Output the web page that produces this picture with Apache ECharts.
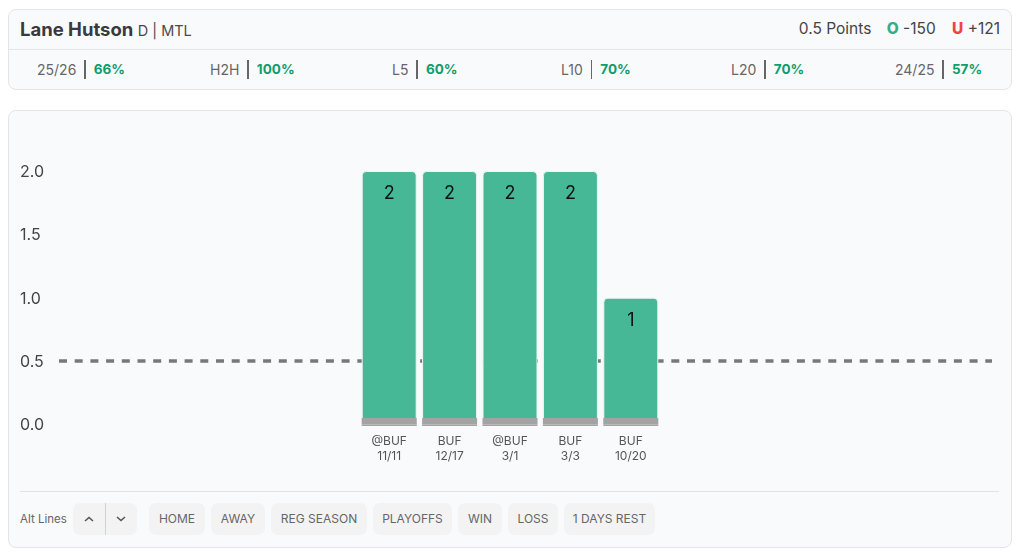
<!DOCTYPE html>
<html><head><meta charset="utf-8">
<script src="https://cdn.jsdelivr.net/npm/echarts@6/dist/echarts.min.js"></script>
<style>
html,body{margin:0;padding:0;background:#fff;width:1024px;height:559px;overflow:hidden;font-family:Inter,"Noto Sans",sans-serif;color:#444}
.card{position:absolute;left:8px;width:1004px;box-sizing:border-box;background:#f9fafc;border:1px solid #e3e5e8;border-radius:8px}
#top{top:9px;height:81px}
#bottom{top:110px;height:438px}
.head{position:absolute;left:0;right:0;top:0;height:39px;border-bottom:1px solid #e3e5e8}
.name{position:absolute;left:11px;top:8px;font-size:18.5px;font-weight:700;color:#3a3a3e;white-space:nowrap}
.name span{font-size:14.5px;font-weight:400;color:#4a4a4e;margin-left:0}
.odds{position:absolute;right:11px;top:9px;font-size:15.5px;color:#444;white-space:nowrap}
.odds b{font-weight:800}
.o{color:#35ad8a;margin-left:11px}.u{color:#ef4444;margin-left:12px}
.stat{position:absolute;top:50px;display:flex;align-items:center;color:#666;font-size:14px;line-height:19px;white-space:nowrap}
.stat i{display:block;width:1.5px;height:19px;background:#666;margin:0 8px}
.stat b{color:#0f9d6c;font-weight:700;font-size:13.5px}
.rule{position:absolute;left:11px;right:12px;top:380px;border-top:1px solid #e1e3e6}
.alt{position:absolute;left:11px;top:401px;font-size:11.5px;color:#666}
.btn{position:absolute;top:392px;height:32px;line-height:32px;text-align:center;background:#f3f3f4;border-radius:7px;font-size:12px;color:#666;white-space:nowrap}
.step{position:absolute;left:64px;top:392px;width:64px;height:32px;background:#f3f3f4;border-radius:7px;display:flex}
.step span{flex:1;display:flex;align-items:center;justify-content:center}
.step span:first-child{border-right:1px solid #cfd4d2}
.step svg{width:10px;height:6px;fill:none;stroke:#555;stroke-width:1.6}
#chart{position:absolute;left:0;top:0;width:1024px;height:559px}
</style></head><body>
<div class="card" id="top">
  <div class="head">
    <div class="name">Lane Hutson <span>D | MTL</span></div>
    <div class="odds">0.5 Points <b class="o">O</b> -150 <b class="u">U</b> +121</div>
  </div>
  <div id="stats"></div>
</div>
<div class="card" id="bottom">
  <div class="rule"></div>
  <div class="alt">Alt Lines</div>
  <div class="step"><span><svg viewBox="0 0 10 6"><path d="M1 5L5 1.5L9 5"/></svg></span><span><svg viewBox="0 0 10 6"><path d="M1 1L5 4.5L9 1"/></svg></span></div>
  <div id="btns"></div>
</div>
<div id="chart"></div>
<script>
var opponents = ['@BUF','BUF','@BUF','BUF','BUF'];
var dates = ['11/11','12/17','3/1','3/3','10/20'];
var points = [2,2,2,2,1];
var floorTop = [0.05,0.05,0.05,0.05,0.05];
var floorBelow = [-0.012,-0.012,-0.012,-0.012,-0.012];
var propLine = [0.5,0.5];
var lineEnds = [0,1];
var statLabels = ['25/26','H2H','L5','L10','L20','24/25'];
var statValues = ['66%','100%','60%','70%','70%','57%'];
var statLefts = [28,201,383,552,722,886];
var filterLabels = ['HOME','AWAY','REG SEASON','PLAYOFFS','WIN','LOSS','1 DAYS REST'];
var filterLefts = [140,202,262,364,449,499,555];
var filterWidths = [56,54,96,79,44,50,91];

document.getElementById('stats').innerHTML = statLabels.map(function(l,i){
  return '<div class="stat" style="left:'+statLefts[i]+'px">'+l+'<i></i><b>'+statValues[i]+'</b></div>';
}).join('');
document.getElementById('btns').innerHTML = filterLabels.map(function(l,i){
  return '<div class="btn" style="left:'+filterLefts[i]+'px;width:'+filterWidths[i]+'px">'+l+'</div>';
}).join('');

var categories = opponents.map(function(o,i){return o+'\n'+dates[i];});
var chart = echarts.init(document.getElementById('chart'));
var yBase = {type:'value',min:-0.5,max:2,interval:0.5,axisLine:{show:false},axisTick:{show:false},splitLine:{show:false}};
var edge = {borderColor:'#f1f3f5',borderWidth:1};
chart.setOption({
  animation:false,
  backgroundColor:'transparent',
  textStyle:{fontFamily:'Inter'},
  grid:[
    {left:359,width:302,top:171,height:316.75},
    {left:59,width:933,top:171,height:316.75},
    {left:59,width:933,top:172,height:316.75}
  ],
  xAxis:[
    {type:'category',gridIndex:0,data:categories,offset:-63.25,
     axisLine:{show:false,onZero:false},axisTick:{show:false},
     axisLabel:{interval:0,margin:9,fontSize:12,lineHeight:15,color:'#555',fontFamily:'Inter'}},
    {type:'value',gridIndex:1,min:0,max:1,show:false},
    {type:'value',gridIndex:2,min:0,max:1,show:false}
  ],
  yAxis:[
    Object.assign({},yBase,{gridIndex:0,axisLabel:{show:false}}),
    Object.assign({},yBase,{gridIndex:1,axisLabel:{show:false}}),
    Object.assign({},yBase,{gridIndex:2,axisLabel:{margin:39,align:'left',fontSize:16,color:'#444',fontFamily:'Inter',
      formatter:function(v){return v<0?'':v.toFixed(1);}}})
  ],
  series:[
    {type:'line',xAxisIndex:1,yAxisIndex:1,z:1,symbol:'none',silent:true,
     data:lineEnds.map(function(x,i){return [x,propLine[i]];}),
     lineStyle:{color:'#77787a',width:3.5,type:[8,7.7]}},
    {type:'bar',xAxisIndex:0,yAxisIndex:0,z:2,barWidth:55,barGap:'-100%',data:points,
     itemStyle:Object.assign({color:'#46b895',borderRadius:[4,4,0,0]},edge),
     label:{show:true,position:'insideTop',distance:14,fontSize:18,color:'#111',fontFamily:'Inter'}},
    {type:'bar',xAxisIndex:0,yAxisIndex:0,z:3,barWidth:55,barGap:'-100%',data:floorTop,
     itemStyle:{color:'#a3a3a3'}},
    {type:'bar',xAxisIndex:0,yAxisIndex:0,z:3,barWidth:55,barGap:'-100%',data:floorBelow,
     itemStyle:{color:'#a3a3a3'}}
  ]
});
</script>
</body></html>
